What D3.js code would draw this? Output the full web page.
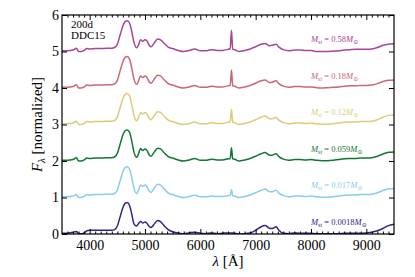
<!DOCTYPE html>
<html>
<head>
<meta charset="utf-8">
<script src="https://cdn.jsdelivr.net/npm/d3@7"></script>
<style>
	body { margin: 0; background: #fff; }
	svg { display: block; font-family: 'Liberation Serif', 'DejaVu Serif', serif; }
	.axis text { font-size: 14px; fill: #000; font-family: 'Liberation Serif', 'DejaVu Serif', serif; }
	.axis line { stroke: #000; stroke-width: 1; }
</style>
</head>
<body>
<div id="vis"></div>
<script>
// wavelength grid (Angstrom), shared by all spectra
var wave = [3500, 3600, 3700, 3760, 3800, 3850, 3900, 3950, 4000, 4100,
	4200, 4300, 4400, 4450, 4500, 4550, 4600, 4650, 4680, 4720,
	4760, 4800, 4850, 4880, 4920, 4960, 5000, 5030, 5080, 5110,
	5160, 5230, 5280, 5350, 5420, 5500, 5600, 5700, 5800, 5900,
	6000, 6100, 6200, 6300, 6400, 6500, 6540, 6563, 6585, 6620,
	6700, 6800, 6900, 7000, 7100, 7170, 7250, 7300, 7370, 7420,
	7500, 7600, 7700, 7800, 7900, 8000, 8100, 8200, 8300, 8400,
	8500, 8600, 8700, 8800, 8900, 9000, 9100, 9200, 9300, 9400, 9500];

// normalized flux of each model (before the vertical offset)
var flux058 = [0.02, 0.02, 0.04, 0.09, 0.00, 0.00, 0.03, 0.08, 0.07, 0.08,
	0.08, 0.09, 0.09, 0.11, 0.20, 0.45, 0.70, 0.83, 0.84, 0.78,
	0.55, 0.25, 0.10, 0.17, 0.32, 0.28, 0.32, 0.30, 0.16, 0.13,
	0.22, 0.34, 0.32, 0.22, 0.12, 0.08, 0.03, 0.00, 0.03, 0.07,
	0.02, 0.02, 0.05, 0.03, 0.03, 0.06, 0.08, 0.58, 0.06, 0.05,
	0.00, 0.03, 0.07, 0.13, 0.20, 0.22, 0.16, 0.17, 0.20, 0.12,
	0.05, 0.02, 0.04, 0.04, 0.03, 0.03, 0.00, 0.00, 0.00, 0.01,
	0.02, 0.04, 0.05, 0.06, 0.06, 0.06, 0.07, 0.11, 0.17, 0.20, 0.21];

var flux018 = [0.02, 0.02, 0.04, 0.09, 0.00, 0.00, 0.03, 0.08, 0.07, 0.08,
	0.08, 0.09, 0.09, 0.11, 0.21, 0.47, 0.72, 0.85, 0.86, 0.79,
	0.55, 0.25, 0.10, 0.18, 0.33, 0.29, 0.33, 0.30, 0.16, 0.13,
	0.23, 0.35, 0.33, 0.22, 0.12, 0.08, 0.03, 0.00, 0.03, 0.07,
	0.02, 0.02, 0.05, 0.03, 0.03, 0.06, 0.08, 0.49, 0.06, 0.05,
	0.00, 0.03, 0.07, 0.13, 0.20, 0.22, 0.15, 0.16, 0.20, 0.12,
	0.05, 0.02, 0.04, 0.04, 0.03, 0.03, 0.01, 0.00, 0.01, 0.02,
	0.03, 0.05, 0.06, 0.06, 0.07, 0.07, 0.08, 0.12, 0.18, 0.21, 0.22];

var flux012 = [0.02, 0.02, 0.04, 0.09, 0.00, 0.00, 0.03, 0.08, 0.07, 0.08,
	0.08, 0.09, 0.09, 0.11, 0.21, 0.46, 0.71, 0.84, 0.85, 0.79,
	0.55, 0.25, 0.10, 0.18, 0.33, 0.29, 0.33, 0.30, 0.16, 0.13,
	0.23, 0.35, 0.33, 0.22, 0.12, 0.08, 0.03, 0.00, 0.03, 0.07,
	0.02, 0.02, 0.05, 0.03, 0.03, 0.06, 0.08, 0.42, 0.06, 0.05,
	0.00, 0.03, 0.07, 0.13, 0.20, 0.23, 0.16, 0.16, 0.20, 0.12,
	0.05, 0.02, 0.04, 0.04, 0.03, 0.04, 0.02, 0.01, 0.01, 0.02,
	0.04, 0.06, 0.07, 0.07, 0.08, 0.08, 0.09, 0.13, 0.20, 0.25, 0.26];

var flux0059 = [0.02, 0.02, 0.04, 0.09, 0.00, 0.00, 0.03, 0.08, 0.07, 0.08,
	0.08, 0.09, 0.09, 0.11, 0.21, 0.46, 0.71, 0.84, 0.85, 0.79,
	0.55, 0.25, 0.10, 0.18, 0.34, 0.29, 0.33, 0.30, 0.16, 0.13,
	0.23, 0.35, 0.33, 0.22, 0.12, 0.08, 0.03, 0.00, 0.03, 0.07,
	0.02, 0.02, 0.05, 0.03, 0.03, 0.06, 0.07, 0.36, 0.06, 0.05,
	0.00, 0.03, 0.07, 0.13, 0.20, 0.23, 0.16, 0.16, 0.20, 0.12,
	0.05, 0.02, 0.04, 0.04, 0.03, 0.04, 0.02, 0.01, 0.01, 0.02,
	0.04, 0.06, 0.07, 0.07, 0.08, 0.08, 0.09, 0.13, 0.19, 0.24, 0.25];

var flux0017 = [0.02, 0.02, 0.04, 0.08, 0.00, 0.00, 0.03, 0.08, 0.07, 0.08,
	0.08, 0.09, 0.09, 0.11, 0.21, 0.46, 0.70, 0.83, 0.84, 0.78,
	0.55, 0.25, 0.11, 0.18, 0.34, 0.30, 0.34, 0.31, 0.17, 0.14,
	0.24, 0.36, 0.34, 0.23, 0.12, 0.08, 0.03, 0.00, 0.03, 0.06,
	0.02, 0.02, 0.04, 0.03, 0.03, 0.05, 0.06, 0.21, 0.05, 0.04,
	0.00, 0.03, 0.07, 0.13, 0.20, 0.23, 0.16, 0.16, 0.20, 0.12,
	0.05, 0.02, 0.04, 0.04, 0.03, 0.04, 0.02, 0.01, 0.01, 0.02,
	0.04, 0.06, 0.07, 0.07, 0.08, 0.08, 0.09, 0.13, 0.19, 0.24, 0.25];

var flux00018 = [0.02, 0.02, 0.05, 0.07, 0.01, 0.01, 0.03, 0.09, 0.10, 0.10,
	0.10, 0.10, 0.10, 0.12, 0.22, 0.47, 0.72, 0.85, 0.86, 0.78,
	0.55, 0.28, 0.22, 0.28, 0.34, 0.30, 0.33, 0.30, 0.20, 0.18,
	0.26, 0.37, 0.34, 0.22, 0.12, 0.06, 0.03, 0.01, 0.03, 0.05,
	0.02, 0.01, 0.03, 0.01, 0.02, 0.03, 0.03, 0.03, 0.03, 0.02,
	0.00, 0.01, 0.03, 0.10, 0.20, 0.23, 0.16, 0.15, 0.20, 0.10,
	0.02, 0.01, 0.03, 0.02, 0.02, 0.02, 0.01, 0.01, 0.01, 0.01,
	0.01, 0.02, 0.02, 0.02, 0.02, 0.03, 0.05, 0.09, 0.15, 0.23, 0.27];

var masses = ['0.58', '0.18', '0.12', '0.059', '0.017', '0.0018'];
var offsets = [5, 4, 3, 2, 1, 0];
var allFlux = [flux058, flux018, flux012, flux0059, flux0017, flux00018];

var xTicks = [4000, 5000, 6000, 7000, 8000, 9000];
var xMinorTicks = d3.range(3600, 9500, 100).filter(function(d) { return d % 1000 !== 0; });
var yTicks = [0, 1, 2, 3, 4, 5, 6];

var width = 415,
	height = 277;

var margin = {
	left: 62,
	top: 15,
	right: 21,
	bottom: 43
};

var drawWidth = width - margin.left - margin.right,
	drawHeight = height - margin.top - margin.bottom;

var svg = d3.select('#vis')
	.append('svg')
	.attr('width', width)
	.attr('height', height);

var g = svg.append('g')
	.attr('transform', 'translate(' + margin.left + ',' + margin.top + ')');

var x = d3.scaleLinear()
	.domain([3500, 9500])
	.range([0, drawWidth]);

var y = d3.scaleLinear()
	.domain([0, 6])
	.range([drawHeight, 0]);

var color = d3.scaleOrdinal()
	.domain(masses)
	.range(['#aa4499', '#cc6677', '#ddcc77', '#117733', '#88ccee', '#332288']);

var line = d3.line()
	.x(function(d) { return x(d.w); })
	.y(function(d) { return y(d.f); })
	.curve(d3.curveMonotoneX);

var series = masses.map(function(m, i) {
	return {
		mass: m,
		offset: offsets[i],
		values: wave.map(function(w, j) { return {w: w, f: allFlux[i][j] + offsets[i]}; })
	};
});

g.append('defs').append('clipPath')
	.attr('id', 'clip')
  .append('rect')
	.attr('width', drawWidth)
	.attr('height', drawHeight);

g.append('g')
	.attr('clip-path', 'url(#clip)')
  .selectAll('path')
  .data(series)
  .enter().append('path')
	.attr('d', function(d) { return line(d.values); })
	.attr('fill', 'none')
	.attr('stroke', function(d) { return color(d.mass); })
	.attr('stroke-width', 1.5)
	.attr('stroke-linejoin', 'round');

// series labels
var labels = g.selectAll('.mlabel')
	.data(series)
	.enter().append('text')
	.attr('class', 'mlabel')
	.attr('x', 249)
	.attr('y', function(d) { return y(d.offset + 0.25); })
	.attr('fill', function(d) { return color(d.mass); })
	.attr('font-size', 8.5);

labels.append('tspan').attr('font-style', 'italic').text('M');
labels.append('tspan').attr('font-size', 6).attr('dy', 2).text('st');
labels.append('tspan').attr('dy', -2).text(function(d) { return ' = ' + d.mass; });
labels.append('tspan').attr('font-style', 'italic').text('M');
labels.append('tspan').attr('font-size', 6).attr('dy', 2).text('\u2299');

// axes: inward major + minor ticks
g.append('g')
	.attr('class', 'axis')
	.attr('transform', 'translate(0,' + drawHeight + ')')
	.call(d3.axisBottom(x).tickValues(xTicks).tickSize(-5).tickPadding(6).tickFormat(d3.format('d')))
	.call(function(s) { s.select('.domain').remove(); });

g.append('g')
	.attr('class', 'axis')
	.attr('transform', 'translate(0,' + drawHeight + ')')
	.call(d3.axisBottom(x).tickValues(xMinorTicks).tickSize(-2.5).tickFormat(''))
	.call(function(s) { s.select('.domain').remove(); });

g.append('g')
	.attr('class', 'axis')
	.call(d3.axisTop(x).tickValues(xTicks).tickSize(-5).tickFormat(''))
	.call(function(s) { s.select('.domain').remove(); });

g.append('g')
	.attr('class', 'axis')
	.call(d3.axisTop(x).tickValues(xMinorTicks).tickSize(-2.5).tickFormat(''))
	.call(function(s) { s.select('.domain').remove(); });

g.append('g')
	.attr('class', 'axis')
	.call(d3.axisLeft(y).tickValues(yTicks).tickSize(-5).tickPadding(3).tickFormat(d3.format('d')))
	.call(function(s) { s.select('.domain').remove(); });

g.append('g')
	.attr('class', 'axis')
	.attr('transform', 'translate(' + drawWidth + ',0)')
	.call(d3.axisRight(y).tickValues(yTicks).tickSize(-5).tickFormat(''))
	.call(function(s) { s.select('.domain').remove(); });

// frame
g.append('rect')
	.attr('width', drawWidth)
	.attr('height', drawHeight)
	.attr('fill', 'none')
	.attr('stroke', '#000')
	.attr('stroke-width', 1.2);

// corner annotations
g.append('text')
	.attr('x', 9)
	.attr('y', 12.5)
	.attr('font-size', 11)
	.text('200d');

g.append('text')
	.attr('x', 9)
	.attr('y', 23.5)
	.attr('font-size', 11)
	.text('DDC15');

// axis titles
var xt = svg.append('text')
	.attr('x', margin.left + drawWidth / 2)
	.attr('y', 266)
	.attr('text-anchor', 'middle')
	.attr('font-size', 15);
xt.append('tspan').attr('font-style', 'italic').text('\u03bb');
xt.append('tspan').text(' [\u00c5]');

var yt = svg.append('text')
	.attr('transform', 'translate(42,' + (margin.top + drawHeight / 2) + ') rotate(-90)')
	.attr('text-anchor', 'middle')
	.attr('font-size', 15);
yt.append('tspan').attr('font-style', 'italic').text('F');
yt.append('tspan').attr('font-style', 'italic').attr('font-size', 11).attr('dy', 3).text('\u03bb');
yt.append('tspan').attr('dy', -3).text(' [normalized]');
</script>
</body>
</html>
